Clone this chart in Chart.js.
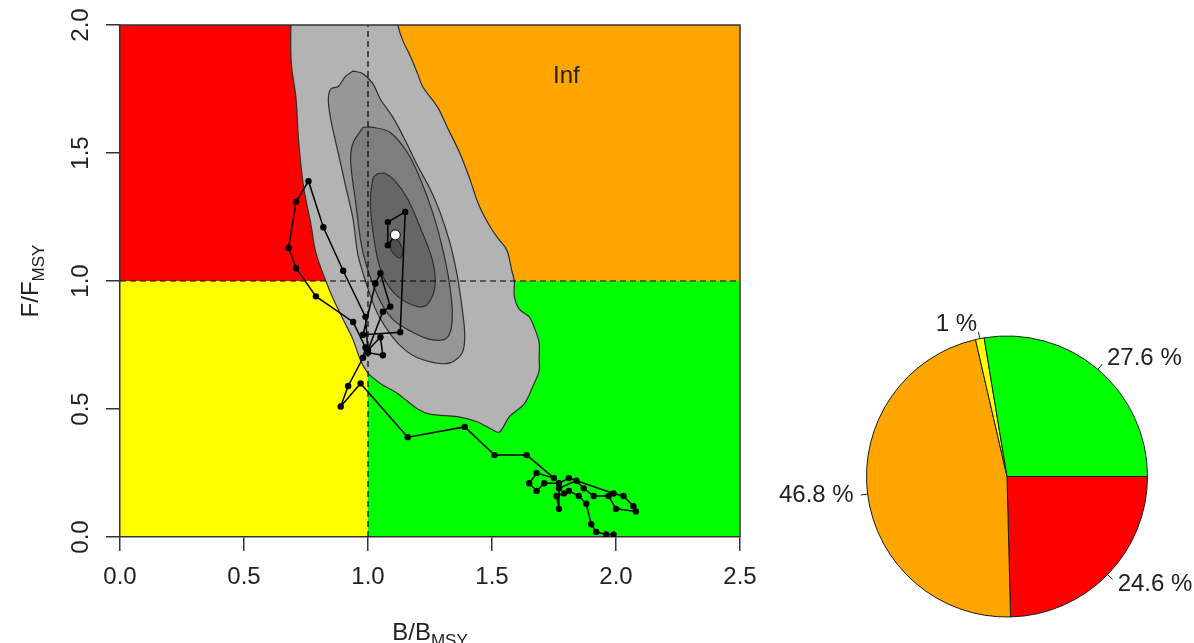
<!DOCTYPE html>
<html>
<head>
<meta charset="utf-8">
<script src="https://cdn.jsdelivr.net/npm/chart.js@4.4.1/dist/chart.umd.min.js"></script>
<style>
  html, body { margin: 0; padding: 0; background: #ffffff; }
  body { width: 1194px; height: 643px; position: relative; overflow: hidden; }
  #kobe { position: absolute; left: 0; top: 0; }
  #pie  { position: absolute; left: 760px; top: 300px; }
</style>
</head>
<body>
<canvas id="kobe" width="800" height="643"></canvas>
<canvas id="pie" width="434" height="343"></canvas>
<script>
// ---- Data -------------------------------------------------------------
// Stock trajectory by year (oldest first, last entry = current year)
const trajB = [1.99, 1.96, 1.92, 1.90, 1.88, 1.85, 1.81, 1.79, 1.76, 1.77, 1.77, 1.84, 1.87, 1.91, 1.97,
               2.00, 2.08, 2.07, 2.03, 1.99, 1.81, 1.77, 1.71, 1.68, 1.65, 1.68, 1.75, 1.64, 1.51, 1.39,
               1.16, 0.97, 0.89, 0.92, 0.98, 0.99, 0.94, 0.79, 0.71, 0.68, 0.71, 0.76, 0.82, 0.90, 0.99,
               1.00, 1.06, 1.05, 1.00, 1.06, 1.09, 1.05, 1.03, 0.98, 1.13, 1.15, 1.08, 1.08, 1.11];
const trajF = [0.01, 0.01, 0.02, 0.05, 0.13, 0.16, 0.18, 0.17, 0.16, 0.11, 0.19, 0.22, 0.19, 0.16, 0.16,
               0.11, 0.10, 0.12, 0.16, 0.17, 0.23, 0.21, 0.21, 0.18, 0.21, 0.25, 0.23, 0.32, 0.32, 0.43,
               0.39, 0.60, 0.51, 0.59, 0.70, 0.74, 0.84, 0.94, 1.05, 1.13, 1.31, 1.39, 1.21, 1.04, 0.86,
               0.72, 0.71, 0.78, 0.73, 0.88, 0.90, 1.03, 0.99, 0.79, 0.80, 1.27, 1.23, 1.14, 1.18];

// Density contours of the current-year estimate, outermost first
const ring1B = [0.69, 0.69, 0.71, 0.72, 0.74, 0.77, 0.79, 0.83, 0.86, 0.90, 0.94, 0.97, 1.00, 1.05, 1.12,
                1.20, 1.25, 1.36, 1.44, 1.50, 1.53, 1.57, 1.63, 1.67, 1.69, 1.69, 1.69, 1.67, 1.65, 1.61,
                1.59, 1.59, 1.58, 1.56, 1.53, 1.50, 1.45, 1.41, 1.37, 1.32, 1.28, 1.22, 1.20, 1.17, 1.14,
                1.12, 1.11];
const ring1F = [2.06, 1.86, 1.71, 1.55, 1.37, 1.22, 1.11, 1.00, 0.93, 0.85, 0.77, 0.69, 0.64, 0.60, 0.56,
                0.50, 0.48, 0.47, 0.45, 0.42, 0.41, 0.47, 0.52, 0.60, 0.65, 0.70, 0.76, 0.82, 0.86, 0.89,
                0.94, 1.00, 1.04, 1.12, 1.16, 1.20, 1.29, 1.40, 1.50, 1.60, 1.68, 1.76, 1.81, 1.88, 1.94,
                2.00, 2.06];
const ring2B = [0.94, 0.98, 1.02, 1.05, 1.10, 1.15, 1.20, 1.25, 1.29, 1.33, 1.36, 1.38, 1.39, 1.38, 1.33,
                1.27, 1.20, 1.15, 1.10, 1.04, 1.00, 0.96, 0.94, 0.91, 0.88, 0.85, 0.84, 0.85, 0.88, 0.91];
const ring2F = [1.82, 1.81, 1.77, 1.71, 1.64, 1.55, 1.45, 1.36, 1.27, 1.15, 1.02, 0.89, 0.79, 0.72, 0.68,
                0.68, 0.70, 0.73, 0.78, 0.87, 0.97, 1.10, 1.24, 1.37, 1.50, 1.63, 1.71, 1.75, 1.76, 1.80];
const ring3B = [0.98, 1.02, 1.09, 1.16, 1.21, 1.26, 1.30, 1.33, 1.34, 1.32, 1.26, 1.18, 1.10, 1.04, 0.98,
                0.95, 0.93, 0.94];
const ring3F = [1.60, 1.60, 1.58, 1.50, 1.40, 1.27, 1.13, 0.98, 0.85, 0.78, 0.77, 0.80, 0.85, 0.94, 1.11,
                1.31, 1.47, 1.54];
const ring4B = [1.04, 1.07, 1.11, 1.16, 1.21, 1.26, 1.27, 1.24, 1.20, 1.12, 1.06, 1.03, 1.01, 1.02];
const ring4F = [1.42, 1.42, 1.39, 1.32, 1.21, 1.08, 0.98, 0.91, 0.90, 0.94, 1.02, 1.13, 1.29, 1.40];
const ring5B = [1.10, 1.12, 1.14, 1.13, 1.11, 1.09];
const ring5F = [1.18, 1.16, 1.12, 1.09, 1.10, 1.13];

// Axes
const xTicks = [0, 0.5, 1, 1.5, 2, 2.5];
const yTicks = [0, 0.5, 1, 1.5, 2];
const refB = 1, refF = 1;

// Share of the current-year estimate in each quadrant (%)
const zoneNames    = ['green', 'yellow', 'orange', 'red'];
const zonePercents = [27.6, 1, 46.8, 24.6];
const cornerNote   = 'Inf';

// ---- Styling ----------------------------------------------------------
const FONT = '"Liberation Sans", Arial, Helvetica, sans-serif';
const TEXT = '#222222';
const zoneColors = { green: '#00ff00', yellow: '#ffff00', orange: '#ffa500', red: '#ff0000' };
const ringColors = ['#b3b3b3', '#979797', '#7e7e7e', '#666666', '#505050'];

Chart.defaults.font.family = FONT;
Chart.defaults.color = TEXT;

const toPoints = (bs, fs) => bs.map((b, i) => ({ x: b, y: fs[i] }));
const closed = pts => pts.concat([pts[0]]);

const rings = [[ring1B, ring1F], [ring2B, ring2F], [ring3B, ring3F], [ring4B, ring4F], [ring5B, ring5F]];

const ringSets = rings.map(([bs, fs], i) => ({
  data: closed(toPoints(bs, fs)),
  fill: 'shape',
  backgroundColor: ringColors[i],
  borderColor: '#2e2e2e',
  borderWidth: 1.2,
  pointRadius: 0,
  tension: 0.35,
  capBezierPoints: false,
  order: 20 - i
}));

const trajPoints = toPoints(trajB, trajF);
const last = trajPoints.length - 1;

// Quadrant backgrounds, painted before the axes
const quadrants = {
  id: 'quadrants',
  beforeDraw(chart) {
    const { ctx, scales: { x, y } } = chart;
    const x0 = x.getPixelForValue(x.min), x1 = x.getPixelForValue(refB), x2 = x.getPixelForValue(x.max);
    const y0 = y.getPixelForValue(y.min), y1 = y.getPixelForValue(refF), y2 = y.getPixelForValue(y.max);
    ctx.save();
    ctx.fillStyle = zoneColors.yellow; ctx.fillRect(x0, y1, x1 - x0, y0 - y1);
    ctx.fillStyle = zoneColors.green;  ctx.fillRect(x1, y1, x2 - x1, y0 - y1);
    ctx.fillStyle = zoneColors.red;    ctx.fillRect(x0, y2, x1 - x0, y1 - y2);
    ctx.fillStyle = zoneColors.orange; ctx.fillRect(x1, y2, x2 - x1, y1 - y2);
    ctx.restore();
  }
};

function drawSubscripted(ctx, main, sub, cx, baseY) {
  ctx.font = '24px ' + FONT;
  const w1 = ctx.measureText(main).width;
  ctx.font = '17px ' + FONT;
  const w2 = ctx.measureText(sub).width;
  const x0 = cx - (w1 + w2) / 2;
  ctx.textAlign = 'left';
  ctx.textBaseline = 'alphabetic';
  ctx.fillStyle = TEXT;
  ctx.font = '24px ' + FONT;
  ctx.fillText(main, x0, baseY);
  ctx.font = '17px ' + FONT;
  ctx.fillText(sub, x0 + w1, baseY + 6);
}

// Box, axis titles and the corner note
const decorations = {
  id: 'decorations',
  afterDraw(chart) {
    const { ctx, chartArea: a, scales: { x, y } } = chart;
    ctx.save();
    ctx.strokeStyle = '#333333';
    ctx.lineWidth = 1.5;
    ctx.beginPath();
    ctx.moveTo(a.left, a.top); ctx.lineTo(a.right, a.top); ctx.lineTo(a.right, a.bottom);
    ctx.stroke();

    drawSubscripted(ctx, 'B/B', 'MSY', (a.left + a.right) / 2, 640);

    ctx.translate(38, (a.top + a.bottom) / 2);
    ctx.rotate(-Math.PI / 2);
    drawSubscripted(ctx, 'F/F', 'MSY', 0, 0);
    ctx.restore();

    ctx.save();
    ctx.font = '24px ' + FONT;
    ctx.fillStyle = TEXT;
    ctx.textAlign = 'center';
    ctx.textBaseline = 'middle';
    ctx.fillText(cornerNote, x.getPixelForValue(1.8), y.getPixelForValue(1.8));
    ctx.restore();
  }
};

const axisCommon = {
  type: 'linear',
  grid: { drawOnChartArea: false, drawTicks: true, tickLength: 14, color: '#333333', lineWidth: 1.5 },
  border: { display: true, color: '#333333', width: 1.5 }
};

new Chart(document.getElementById('kobe'), {
  type: 'line',
  data: {
    datasets: [
      ...ringSets,
      { data: [{ x: refB, y: yTicks[0] }, { x: refB, y: yTicks[yTicks.length - 1] }],
        borderColor: '#000000', borderWidth: 1.2, borderDash: [6, 4], pointRadius: 0, fill: false, order: 5 },
      { data: [{ x: xTicks[0], y: refF }, { x: xTicks[xTicks.length - 1], y: refF }],
        borderColor: '#000000', borderWidth: 1.2, borderDash: [6, 4], pointRadius: 0, fill: false, order: 4 },
      { data: trajPoints, borderColor: '#000000', borderWidth: 1.5, pointRadius: 3.2,
        pointBackgroundColor: '#000000', pointBorderWidth: 0, fill: false, tension: 0, order: 2 },
      { data: [trajPoints[last]], showLine: false, pointRadius: 5, pointBackgroundColor: '#ffffff',
        pointBorderColor: '#000000', pointBorderWidth: 1, fill: false, order: 1 }
    ]
  },
  options: {
    responsive: false,
    animation: false,
    devicePixelRatio: 1,
    events: [],
    layout: { padding: { left: 0, right: 60, top: 25, bottom: 0 } },
    plugins: { legend: { display: false }, tooltip: { enabled: false } },
    scales: {
      x: {
        ...axisCommon,
        min: xTicks[0], max: xTicks[xTicks.length - 1],
        afterBuildTicks: s => { s.ticks = xTicks.map(v => ({ value: v })); },
        afterFit: s => { s.height = 106; },
        ticks: { callback: v => Number(v).toFixed(1), padding: 12, minRotation: 0, maxRotation: 0,
                 font: { size: 24 }, color: TEXT }
      },
      y: {
        ...axisCommon,
        min: yTicks[0], max: yTicks[yTicks.length - 1],
        afterBuildTicks: s => { s.ticks = yTicks.map(v => ({ value: v })); },
        afterFit: s => { s.width = 120; },
        ticks: { callback: v => Number(v).toFixed(1), padding: 8, minRotation: 90, maxRotation: 90,
                 crossAlign: 'center', font: { size: 24 }, color: TEXT }
      }
    }
  },
  plugins: [quadrants, decorations]
});

// ---- Pie of quadrant shares ------------------------------------------
// Drawn clockwise from 3 o'clock in reverse order, so the slices run
// anticlockwise green, yellow, orange, red.
const pieValues = zonePercents.slice().reverse();
const pieColors = zoneNames.slice().reverse().map(n => zoneColors[n]);

const pieLabels = {
  id: 'pieLabels',
  afterDatasetsDraw(chart) {
    const ctx = chart.ctx;
    const meta = chart.getDatasetMeta(0);
    ctx.save();
    ctx.font = '24px ' + FONT;
    ctx.fillStyle = TEXT;
    ctx.strokeStyle = '#222222';
    ctx.lineWidth = 1;
    ctx.textBaseline = 'middle';
    meta.data.forEach((arc, i) => {
      const { x, y, startAngle, endAngle, outerRadius } =
        arc.getProps(['x', 'y', 'startAngle', 'endAngle', 'outerRadius'], true);
      const mid = (startAngle + endAngle) / 2;
      const c = Math.cos(mid), s = Math.sin(mid);
      ctx.beginPath();
      ctx.moveTo(x + c * outerRadius, y + s * outerRadius);
      ctx.lineTo(x + c * outerRadius * 1.05, y + s * outerRadius * 1.05);
      ctx.stroke();
      ctx.textAlign = c >= 0 ? 'left' : 'right';
      ctx.fillText(pieValues[i] + ' %', x + c * outerRadius * 1.1, y + s * outerRadius * 1.1);
    });
    ctx.restore();
  }
};

new Chart(document.getElementById('pie'), {
  type: 'pie',
  data: {
    labels: zoneNames.slice().reverse(),
    datasets: [{
      data: pieValues,
      backgroundColor: pieColors,
      borderColor: '#1a1a1a',
      borderWidth: 1
    }]
  },
  options: {
    responsive: false,
    animation: false,
    devicePixelRatio: 1,
    events: [],
    rotation: 90,
    layout: { padding: { left: 106, right: 46, top: 35.5, bottom: 25.5 } },
    plugins: { legend: { display: false }, tooltip: { enabled: false } }
  },
  plugins: [pieLabels]
});
</script>
</body>
</html>
